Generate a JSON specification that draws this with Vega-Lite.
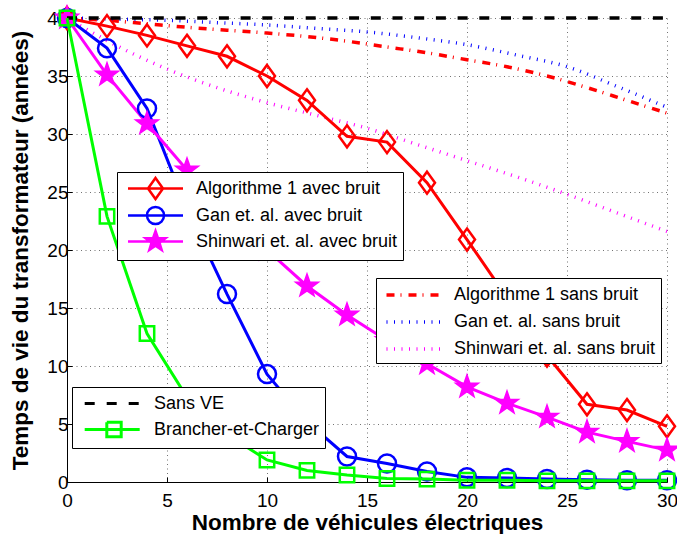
{
  "$schema": "https://vega.github.io/schema/vega-lite/v6.json",
  "width": 600,
  "height": 464,
  "autosize": {"type": "none"},
  "padding": {"left": 67, "top": 18, "right": 10, "bottom": 52},
  "background": "white",
  "config": {
    "view": {"stroke": null},
    "font": "Liberation Sans",
    "axis": {
      "labelFont": "Liberation Sans", "labelFontSize": 19, "labelColor": "black",
      "titleFont": "Liberation Sans", "titleFontSize": 22.5, "titleFontWeight": "bold", "titleColor": "black",
      "domainColor": "black", "domainWidth": 1,
      "tickColor": "black", "tickSize": -5, "tickWidth": 1,
      "grid": true, "gridColor": "#000000", "gridDash": [1, 3.5], "gridOpacity": 0.55, "gridWidth": 1
    },
    "legend": {
      "labelFont": "Liberation Sans", "labelFontSize": 18, "labelColor": "black", "labelLimit": 400,
      "strokeColor": "black", "fillColor": "white", "padding": 5, "rowPadding": 3,
      "symbolSize": 400, "symbolStrokeWidth": 3, "symbolOpacity": 1, "orient": "none", "title": null
    }
  },
  "datasets": {
    "avec": [
      {"series": "Algorithme 1 avec bruit", "x": 0, "y": 40},
      {"series": "Algorithme 1 avec bruit", "x": 2, "y": 39.3},
      {"series": "Algorithme 1 avec bruit", "x": 4, "y": 38.5},
      {"series": "Algorithme 1 avec bruit", "x": 6, "y": 37.6},
      {"series": "Algorithme 1 avec bruit", "x": 8, "y": 36.7},
      {"series": "Algorithme 1 avec bruit", "x": 10, "y": 35.0},
      {"series": "Algorithme 1 avec bruit", "x": 12, "y": 32.9},
      {"series": "Algorithme 1 avec bruit", "x": 14, "y": 29.8},
      {"series": "Algorithme 1 avec bruit", "x": 16, "y": 29.3},
      {"series": "Algorithme 1 avec bruit", "x": 18, "y": 25.8},
      {"series": "Algorithme 1 avec bruit", "x": 20, "y": 20.9},
      {"series": "Algorithme 1 avec bruit", "x": 22, "y": 15.9},
      {"series": "Algorithme 1 avec bruit", "x": 24, "y": 10.9},
      {"series": "Algorithme 1 avec bruit", "x": 26, "y": 6.7},
      {"series": "Algorithme 1 avec bruit", "x": 28, "y": 6.2},
      {"series": "Algorithme 1 avec bruit", "x": 30, "y": 4.8},
      {"series": "Gan et. al. avec bruit", "x": 0, "y": 40},
      {"series": "Gan et. al. avec bruit", "x": 2, "y": 37.4},
      {"series": "Gan et. al. avec bruit", "x": 4, "y": 32.2},
      {"series": "Gan et. al. avec bruit", "x": 6, "y": 23.5},
      {"series": "Gan et. al. avec bruit", "x": 8, "y": 16.2},
      {"series": "Gan et. al. avec bruit", "x": 10, "y": 9.3},
      {"series": "Gan et. al. avec bruit", "x": 12, "y": 5.2},
      {"series": "Gan et. al. avec bruit", "x": 14, "y": 2.2},
      {"series": "Gan et. al. avec bruit", "x": 16, "y": 1.6},
      {"series": "Gan et. al. avec bruit", "x": 18, "y": 0.9},
      {"series": "Gan et. al. avec bruit", "x": 20, "y": 0.4},
      {"series": "Gan et. al. avec bruit", "x": 22, "y": 0.35},
      {"series": "Gan et. al. avec bruit", "x": 24, "y": 0.25},
      {"series": "Gan et. al. avec bruit", "x": 26, "y": 0.2},
      {"series": "Gan et. al. avec bruit", "x": 28, "y": 0.15},
      {"series": "Gan et. al. avec bruit", "x": 30, "y": 0.15},
      {"series": "Shinwari et. al. avec bruit", "x": 0, "y": 40},
      {"series": "Shinwari et. al. avec bruit", "x": 2, "y": 35.1},
      {"series": "Shinwari et. al. avec bruit", "x": 4, "y": 30.9},
      {"series": "Shinwari et. al. avec bruit", "x": 6, "y": 26.9},
      {"series": "Shinwari et. al. avec bruit", "x": 8, "y": 23.4},
      {"series": "Shinwari et. al. avec bruit", "x": 10, "y": 20.0},
      {"series": "Shinwari et. al. avec bruit", "x": 12, "y": 16.9},
      {"series": "Shinwari et. al. avec bruit", "x": 14, "y": 14.4},
      {"series": "Shinwari et. al. avec bruit", "x": 16, "y": 12.2},
      {"series": "Shinwari et. al. avec bruit", "x": 18, "y": 10.2},
      {"series": "Shinwari et. al. avec bruit", "x": 20, "y": 8.2},
      {"series": "Shinwari et. al. avec bruit", "x": 22, "y": 6.8},
      {"series": "Shinwari et. al. avec bruit", "x": 24, "y": 5.6},
      {"series": "Shinwari et. al. avec bruit", "x": 26, "y": 4.3},
      {"series": "Shinwari et. al. avec bruit", "x": 28, "y": 3.5},
      {"series": "Shinwari et. al. avec bruit", "x": 30, "y": 2.75}
    ],
    "sans": [
      {"series": "Algorithme 1 sans bruit", "x": 0, "y": 40},
      {"series": "Algorithme 1 sans bruit", "x": 2, "y": 39.8},
      {"series": "Algorithme 1 sans bruit", "x": 4, "y": 39.5},
      {"series": "Algorithme 1 sans bruit", "x": 6, "y": 39.2},
      {"series": "Algorithme 1 sans bruit", "x": 8, "y": 38.95},
      {"series": "Algorithme 1 sans bruit", "x": 10, "y": 38.7},
      {"series": "Algorithme 1 sans bruit", "x": 12, "y": 38.4},
      {"series": "Algorithme 1 sans bruit", "x": 14, "y": 38.0},
      {"series": "Algorithme 1 sans bruit", "x": 16, "y": 37.5},
      {"series": "Algorithme 1 sans bruit", "x": 18, "y": 37.0},
      {"series": "Algorithme 1 sans bruit", "x": 20, "y": 36.4},
      {"series": "Algorithme 1 sans bruit", "x": 22, "y": 35.8},
      {"series": "Algorithme 1 sans bruit", "x": 24, "y": 35.0},
      {"series": "Algorithme 1 sans bruit", "x": 26, "y": 34.0},
      {"series": "Algorithme 1 sans bruit", "x": 28, "y": 32.9},
      {"series": "Algorithme 1 sans bruit", "x": 30, "y": 31.8},
      {"series": "Gan et. al. sans bruit", "x": 0, "y": 40},
      {"series": "Gan et. al. sans bruit", "x": 2.5, "y": 39.9},
      {"series": "Gan et. al. sans bruit", "x": 5, "y": 39.8},
      {"series": "Gan et. al. sans bruit", "x": 7.5, "y": 39.6},
      {"series": "Gan et. al. sans bruit", "x": 10, "y": 39.4},
      {"series": "Gan et. al. sans bruit", "x": 12.5, "y": 39.1},
      {"series": "Gan et. al. sans bruit", "x": 15, "y": 38.8},
      {"series": "Gan et. al. sans bruit", "x": 17.5, "y": 38.3},
      {"series": "Gan et. al. sans bruit", "x": 20, "y": 37.7},
      {"series": "Gan et. al. sans bruit", "x": 22.5, "y": 36.8},
      {"series": "Gan et. al. sans bruit", "x": 25, "y": 35.8},
      {"series": "Gan et. al. sans bruit", "x": 27.5, "y": 34.1},
      {"series": "Gan et. al. sans bruit", "x": 30, "y": 32.3},
      {"series": "Shinwari et. al. sans bruit", "x": 0, "y": 40},
      {"series": "Shinwari et. al. sans bruit", "x": 2.5, "y": 37.6},
      {"series": "Shinwari et. al. sans bruit", "x": 5, "y": 35.6},
      {"series": "Shinwari et. al. sans bruit", "x": 7.5, "y": 34.0},
      {"series": "Shinwari et. al. sans bruit", "x": 10, "y": 32.7},
      {"series": "Shinwari et. al. sans bruit", "x": 12.5, "y": 31.6},
      {"series": "Shinwari et. al. sans bruit", "x": 15, "y": 30.5},
      {"series": "Shinwari et. al. sans bruit", "x": 17.5, "y": 29.1},
      {"series": "Shinwari et. al. sans bruit", "x": 20, "y": 27.7},
      {"series": "Shinwari et. al. sans bruit", "x": 22.5, "y": 26.3},
      {"series": "Shinwari et. al. sans bruit", "x": 25, "y": 24.8},
      {"series": "Shinwari et. al. sans bruit", "x": 27.5, "y": 23.2},
      {"series": "Shinwari et. al. sans bruit", "x": 30, "y": 21.6}
    ],
    "other": [
      {"series": "Sans VE", "x": 0, "y": 40},
      {"series": "Sans VE", "x": 30, "y": 40},
      {"series": "Brancher-et-Charger", "x": 0, "y": 40},
      {"series": "Brancher-et-Charger", "x": 2, "y": 22.9},
      {"series": "Brancher-et-Charger", "x": 4, "y": 12.8},
      {"series": "Brancher-et-Charger", "x": 6, "y": 7.3},
      {"series": "Brancher-et-Charger", "x": 8, "y": 4.1},
      {"series": "Brancher-et-Charger", "x": 10, "y": 1.9},
      {"series": "Brancher-et-Charger", "x": 12, "y": 1.0},
      {"series": "Brancher-et-Charger", "x": 14, "y": 0.6},
      {"series": "Brancher-et-Charger", "x": 16, "y": 0.3},
      {"series": "Brancher-et-Charger", "x": 18, "y": 0.25},
      {"series": "Brancher-et-Charger", "x": 20, "y": 0.15},
      {"series": "Brancher-et-Charger", "x": 22, "y": 0.15},
      {"series": "Brancher-et-Charger", "x": 24, "y": 0.1},
      {"series": "Brancher-et-Charger", "x": 26, "y": 0.1},
      {"series": "Brancher-et-Charger", "x": 28, "y": 0.1},
      {"series": "Brancher-et-Charger", "x": 30, "y": 0.1}
    ]
  },
  "encoding": {
    "x": {
      "field": "x", "type": "quantitative",
      "scale": {"domain": [0, 30], "nice": false, "zero": false},
      "axis": {"title": "Nombre de véhicules électriques", "values": [0, 5, 10, 15, 20, 25, 30], "labelFlush": false, "labelPadding": 14, "titlePadding": 1}
    },
    "y": {
      "field": "y", "type": "quantitative",
      "scale": {"domain": [0, 40], "nice": false},
      "axis": {"title": "Temps de vie du transformateur (années)", "values": [0, 5, 10, 15, 20, 25, 30, 35, 40], "labelPadding": 4, "titlePadding": 14}
    }
  },
  "layer": [
    {
      "data": {"name": "sans"},
      "mark": {"type": "line", "strokeWidth": 3.5, "interpolate": "monotone", "strokeCap": "butt"},
      "encoding": {
        "stroke": {
          "field": "series", "type": "nominal",
          "scale": {"domain": ["Algorithme 1 sans bruit", "Gan et. al. sans bruit", "Shinwari et. al. sans bruit"], "range": ["#ff0000", "#0000ff", "#ff00ff"]},
          "legend": {"legendX": 309, "legendY": 260, "labelOffset": 49, "rowPadding": 6, "symbolType": "M-0.65,0H4.85", "symbolStrokeWidth": 3.5}
        },
        "strokeDash": {
          "field": "series", "type": "nominal",
          "scale": {"domain": ["Algorithme 1 sans bruit", "Gan et. al. sans bruit", "Shinwari et. al. sans bruit"], "range": [[8, 6, 1, 7], [1, 6.5], [1, 6.5]]},
          "legend": {"legendX": 309, "legendY": 260, "labelOffset": 49, "rowPadding": 6, "symbolType": "M-0.65,0H4.85", "symbolStrokeWidth": 3.5}
        }
      }
    },
    {
      "data": {"name": "avec"},
      "layer": [
        {
          "mark": {"type": "point", "filled": false, "size": 400, "strokeWidth": 2.5, "opacity": 0},
          "encoding": {
            "stroke": {"field": "series", "type": "nominal",
              "scale": {"domain": ["Algorithme 1 avec bruit", "Gan et. al. avec bruit", "Shinwari et. al. avec bruit"], "range": ["#ff0000", "#0000ff", "#ff00ff"]},
              "legend": {"legendX": 50, "legendY": 154, "labelOffset": 51, "rowPadding": -3, "symbolStrokeWidth": 2.5}},
            "shape": {"field": "series", "type": "nominal",
              "scale": {"domain": ["Algorithme 1 avec bruit", "Gan et. al. avec bruit", "Shinwari et. al. avec bruit"],
                "range": [
                  "M-0.55,0H4.95M2.2,-1.05L2.95,0L2.2,1.05L1.45,0Z",
                  "M-0.55,0H4.95M3.05,0A0.85,0.85,0,1,1,1.35,0A0.85,0.85,0,1,1,3.05,0",
                  "M-0.55,0H4.95M2.2,-1.05L2.447,-0.34L3.199,-0.324L2.6,0.13L2.817,0.849L2.2,0.42L1.583,0.849L1.8,0.13L1.201,-0.324L1.953,-0.34Z"
                ]},
              "legend": {"legendX": 50, "legendY": 154, "labelOffset": 51, "rowPadding": -3, "symbolStrokeWidth": 2.5}},
            "fill": {"field": "series", "type": "nominal",
              "scale": {"domain": ["Algorithme 1 avec bruit", "Gan et. al. avec bruit", "Shinwari et. al. avec bruit"], "range": ["transparent", "transparent", "#ff00ff"]},
              "legend": {"legendX": 50, "legendY": 154, "labelOffset": 51, "rowPadding": -3, "symbolStrokeWidth": 2.5}}
          }
        },
        {
          "mark": {"type": "line", "strokeWidth": 3},
          "encoding": {
            "stroke": {"field": "series", "type": "nominal",
              "scale": {"domain": ["Algorithme 1 avec bruit", "Gan et. al. avec bruit", "Shinwari et. al. avec bruit"], "range": ["#ff0000", "#0000ff", "#ff00ff"]}}
          }
        },
        {
          "transform": [{"filter": "datum.series === 'Algorithme 1 avec bruit'"}],
          "mark": {"type": "point", "filled": false, "size": 400, "strokeWidth": 2.5, "opacity": 1, "shape": "M0,-1.1L0.8,0L0,1.1L-0.8,0Z"},
          "encoding": {
            "stroke": {"field": "series", "type": "nominal",
              "scale": {"domain": ["Algorithme 1 avec bruit", "Gan et. al. avec bruit", "Shinwari et. al. avec bruit"], "range": ["#ff0000", "#0000ff", "#ff00ff"]}}
          }
        },
        {
          "transform": [{"filter": "datum.series === 'Gan et. al. avec bruit'"}],
          "mark": {"type": "point", "filled": false, "size": 400, "strokeWidth": 2.5, "opacity": 1, "shape": "M0.9,0A0.9,0.9,0,1,1,-0.9,0A0.9,0.9,0,1,1,0.9,0"},
          "encoding": {
            "stroke": {"field": "series", "type": "nominal",
              "scale": {"domain": ["Algorithme 1 avec bruit", "Gan et. al. avec bruit", "Shinwari et. al. avec bruit"], "range": ["#ff0000", "#0000ff", "#ff00ff"]}}
          }
        },
        {
          "transform": [{"filter": "datum.series === 'Shinwari et. al. avec bruit'"}],
          "mark": {"type": "point", "filled": false, "fill": "#ff00ff", "size": 400, "strokeWidth": 1.5, "opacity": 1, "shape": "M0,-1.2L0.282,-0.389L1.141,-0.371L0.457,0.148L0.705,0.971L0,0.48L-0.705,0.971L-0.457,0.148L-1.141,-0.371L-0.282,-0.389Z"},
          "encoding": {
            "stroke": {"field": "series", "type": "nominal",
              "scale": {"domain": ["Algorithme 1 avec bruit", "Gan et. al. avec bruit", "Shinwari et. al. avec bruit"], "range": ["#ff0000", "#0000ff", "#ff00ff"]}}
          }
        }
      ]
    },
    {
      "data": {"name": "other"},
      "transform": [{"filter": "datum.series === 'Sans VE'"}],
      "mark": {"type": "rule", "stroke": "#000000", "strokeWidth": 3.5, "strokeDash": [10, 11.7], "strokeCap": "butt"},
      "encoding": {
        "x": {"aggregate": "min", "field": "x", "type": "quantitative"},
        "x2": {"aggregate": "max", "field": "x"},
        "y": {"aggregate": "max", "field": "y", "type": "quantitative"}
      }
    },
    {
      "data": {"name": "other"},
      "layer": [
        {
          "mark": {"type": "point", "filled": false, "size": 400, "strokeWidth": 3, "opacity": 0},
          "encoding": {
            "stroke": {"field": "series", "type": "nominal",
              "scale": {"domain": ["Sans VE", "Brancher-et-Charger"], "range": ["#000000", "#00ff00"]},
              "legend": {"legendX": 5, "legendY": 369, "labelOffset": 54}},
            "shape": {"field": "series", "type": "nominal",
              "scale": {"domain": ["Sans VE", "Brancher-et-Charger"], "range": ["M-0.38,0H5.12", "M-0.38,0H5.12M1.83,-0.72H3.27V0.72H1.83Z"]},
              "legend": {"legendX": 5, "legendY": 369, "labelOffset": 54}},
            "strokeDash": {"field": "series", "type": "nominal",
              "scale": {"domain": ["Sans VE", "Brancher-et-Charger"], "range": [[10, 12], [1000, 0]]},
              "legend": {"legendX": 5, "legendY": 369, "labelOffset": 54}}
          }
        },
        {
          "transform": [{"filter": "datum.series === 'Brancher-et-Charger'"}],
          "mark": {"type": "line", "strokeWidth": 3},
          "encoding": {
            "stroke": {"field": "series", "type": "nominal",
              "scale": {"domain": ["Sans VE", "Brancher-et-Charger"], "range": ["#000000", "#00ff00"]}}
          }
        },
        {
          "transform": [{"filter": "datum.series === 'Brancher-et-Charger'"}],
          "mark": {"type": "point", "filled": false, "size": 400, "strokeWidth": 2.5, "opacity": 1, "shape": "M-0.72,-0.72H0.72V0.72H-0.72Z"},
          "encoding": {
            "stroke": {"field": "series", "type": "nominal",
              "scale": {"domain": ["Sans VE", "Brancher-et-Charger"], "range": ["#000000", "#00ff00"]}}
          }
        }
      ]
    }
  ],
  "resolve": {"scale": {"stroke": "independent", "shape": "independent", "strokeDash": "independent", "fill": "independent"}}
}
